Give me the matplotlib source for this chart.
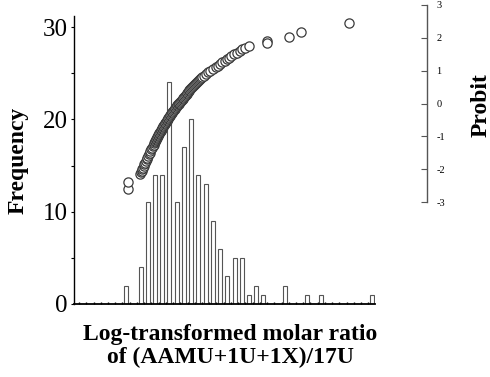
"""Histogram of log-transformed molar ratio with probit (normal-score) overlay."""
import matplotlib
matplotlib.use("Agg")
import matplotlib.pyplot as plt
import numpy as np
from matplotlib.ticker import FixedLocator, NullFormatter

plt.rcParams.update({
    "font.family": ["Liberation Serif", "DejaVu Serif"],
    "axes.unicode_minus": False,
})

# Histogram counts per bin (bin index 0..34 along the log-ratio axis)
bin_counts = [2, 0, 4, 11, 14, 14, 24, 11, 17, 20, 14, 13, 9, 6, 3, 5, 5,
              1, 2, 1, 0, 0, 2, 0, 0, 1, 0, 1, 0, 0, 0, 0, 0, 0, 1]

# Probit plot points: x in bin-index units, y = probit score
probit_x = [
    0.32, 0.32,
    1.93, 2.03, 2.13, 2.23, 2.33, 2.43, 2.53, 2.63, 2.74, 2.84, 2.94, 3.05,
    3.15, 3.26, 3.37, 3.48, 3.59, 3.70, 3.81, 3.92, 3.99, 4.06, 4.13, 4.20,
    4.27, 4.34, 4.40, 4.47, 4.54, 4.61, 4.68, 4.76, 4.84, 4.92, 5.01, 5.09,
    5.17, 5.25, 5.33, 5.42, 5.50, 5.59, 5.68, 5.77, 5.85, 5.94, 6.02, 6.12,
    6.21, 6.31, 6.41, 6.51, 6.61, 6.71, 6.80, 6.90, 6.99, 7.09, 7.18, 7.27,
    7.37, 7.47, 7.58, 7.70, 7.81, 7.93, 8.04, 8.15, 8.25, 8.35, 8.44, 8.54,
    8.64, 8.74, 8.85, 8.98, 9.12, 9.26, 9.40, 9.53, 9.66, 9.79, 9.92, 10.05,
    10.18, 10.35, 10.53, 10.76, 11.04, 11.32, 11.63, 12.01, 12.36, 12.64,
    12.93, 13.31, 13.67, 13.94, 14.20, 14.54, 14.91, 15.30, 15.68, 16.06,
    16.46, 16.92,
    19.53, 19.53, 22.46, 24.17, 30.81,
]
probit_y = [
    -2.61, -2.38,
    -2.15, -2.10, -2.05, -2.00, -1.95, -1.90, -1.85, -1.80, -1.75, -1.70,
    -1.65, -1.60, -1.55, -1.50, -1.45, -1.40, -1.35, -1.30, -1.25, -1.20,
    -1.17, -1.14, -1.11, -1.08, -1.05, -1.02, -0.99, -0.96, -0.93, -0.90,
    -0.87, -0.84, -0.81, -0.78, -0.75, -0.72, -0.69, -0.66, -0.63, -0.60,
    -0.57, -0.54, -0.51, -0.48, -0.45, -0.42, -0.39, -0.36, -0.33, -0.30,
    -0.27, -0.24, -0.21, -0.18, -0.15, -0.12, -0.09, -0.06, -0.03, 0.00,
    0.03, 0.06, 0.09, 0.12, 0.15, 0.18, 0.21, 0.24, 0.27, 0.30, 0.33, 0.36,
    0.39, 0.42, 0.45, 0.48, 0.51, 0.54, 0.57, 0.60, 0.63, 0.66, 0.69, 0.72,
    0.75, 0.78, 0.81, 0.85, 0.90, 0.95, 1.00, 1.05, 1.10, 1.15,
    1.20, 1.25, 1.30, 1.35, 1.40, 1.45, 1.50, 1.55, 1.60, 1.65,
    1.70, 1.75,
    1.91, 1.83, 2.03, 2.19, 2.44,
]

freq_ticks = [0, 10, 20, 30]
probit_ticks = [-3, -2, -1, 0, 1, 2, 3]

W, H = 490, 377
fig = plt.figure(figsize=(W / 100, H / 100), dpi=100)


def px_rect(left, top, right, bottom):
    return [left / W, 1 - bottom / H, (right - left) / W, (bottom - top) / H]


# --- histogram axes -------------------------------------------------------
ax = fig.add_axes(px_rect(74, 16, 374.5, 304))
xs = np.arange(len(bin_counts))
ax.bar(xs, bin_counts, width=0.55, color="white", edgecolor="#555555",
       linewidth=0.8, zorder=2)
ax.set_xlim(-7.2, 34.35)
ax.set_ylim(0, 31.2)
for s in ("top", "right"):
    ax.spines[s].set_visible(False)
ax.spines["left"].set_linewidth(1.0)
ax.spines["bottom"].set_linewidth(1.3)
ax.set_yticks(freq_ticks)
ax.yaxis.set_minor_locator(FixedLocator([5, 15, 25]))
ax.tick_params(axis="y", which="both", direction="out", length=2.5, width=0.8,
               labelsize=18, pad=2)
ax.set_xticks(np.arange(-6.5, 34, 1.0))
ax.xaxis.set_major_formatter(NullFormatter())
ax.tick_params(axis="x", direction="in", length=1.8, width=1.0)

# --- probit axes ----------------------------------------------------------
ax2 = fig.add_axes(px_rect(74, 5, 426.7, 202))
ax2.patch.set_visible(False)
ax2.scatter(probit_x, probit_y, s=44, facecolor="white", edgecolor="#3a3a3a",
            linewidth=0.9, zorder=3, clip_on=False)
ax2.set_xlim(-7.2, -7.2 + 352.7 / 7.235)
ax2.set_ylim(-3, 3)
for s in ("top", "left", "bottom"):
    ax2.spines[s].set_visible(False)
ax2.spines["right"].set_color("#555555")
ax2.spines["right"].set_linewidth(1.0)
ax2.set_xticks([])
ax2.yaxis.tick_right()
ax2.set_yticks(probit_ticks)
ax2.tick_params(axis="y", direction="in", length=4, width=0.8,
                color="#555555", labelsize=7.5, pad=7)

# --- labels ---------------------------------------------------------------
fig.text(18 / W, 1 - 160 / H, "Frequency", rotation=90, ha="center",
         va="center", fontsize=17, fontweight="bold")
fig.text(481 / W, 1 - 105 / H, "Probit", rotation=90, ha="center",
         va="center", fontsize=17, fontweight="bold")
fig.text(230 / W, 1 - 346 / H,
         "Log-transformed molar ratio\nof (AAMU+1U+1X)/17U",
         ha="center", va="center", fontsize=17, fontweight="bold",
         linespacing=1.15)

fig.savefig("out.png", dpi=100)
